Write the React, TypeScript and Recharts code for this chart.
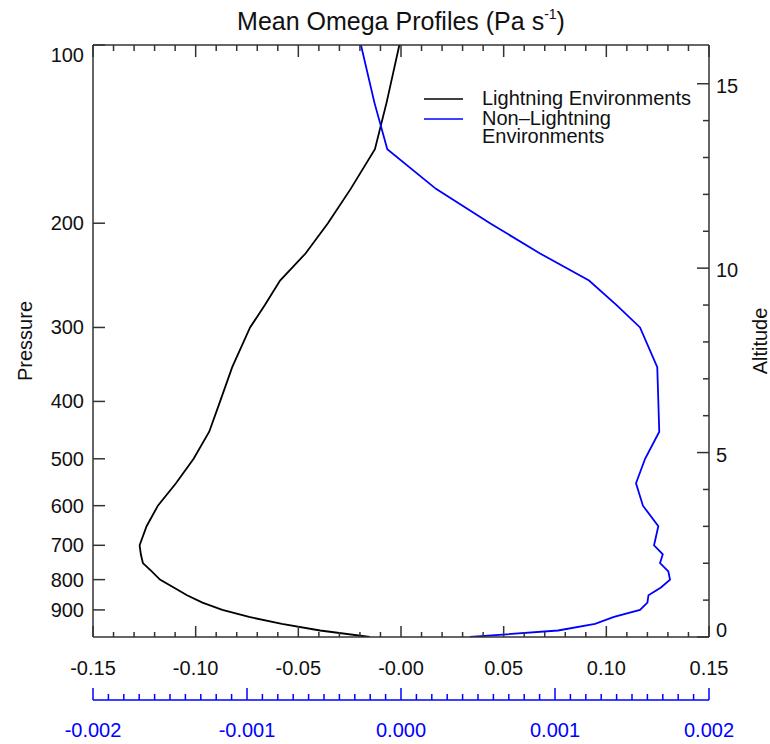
import React from "react";
import { LineChart, Line, XAxis, YAxis, Legend } from "recharts";

// pressure levels (hPa) the two profiles are sampled on
const pressureLevels = [
  100, 125, 150, 175, 200, 225, 250, 275, 300, 350, 400, 450, 500, 550, 600,
  650, 700, 725, 750, 775, 800, 825, 850, 875, 900, 925, 950, 975, 1000,
];

// lightning environments, black axis (Pa s-1)
const lightningOmega = [
  -0.0008, -0.007, -0.0127, -0.0245, -0.0356, -0.0465, -0.0589, -0.0663,
  -0.0735, -0.0822, -0.0881, -0.0934, -0.101, -0.1096, -0.1184, -0.1239,
  -0.1273, -0.1267, -0.1257, -0.1214, -0.1174, -0.1107, -0.1042, -0.0967,
  -0.087, -0.074, -0.058, -0.0394, -0.0152,
];

// non-lightning environments, blue axis (Pa s-1)
const nonLightningOmega = [
  -0.00026, -0.000173, -0.000089, 0.000227, 0.000578, 0.000903, 0.001221,
  0.0014, 0.001552, 0.001664, 0.001671, 0.001677, 0.001585, 0.001526,
  0.001571, 0.001671, 0.001643, 0.0017, 0.001682, 0.001736, 0.001747,
  0.001688, 0.001607, 0.0016, 0.001552, 0.001383, 0.00126, 0.00102, 0.000448,
];

const seriesNames = ["Lightning Environments", "Non\u2013Lightning\nEnvironments"];

const omegaMajorTicks = [-0.15, -0.1, -0.05, 0, 0.05, 0.1, 0.15];
const omegaTickLabels = ["-0.15", "-0.10", "-0.05", "-0.00", "0.05", "0.10", "0.15"];
const nlMajorTicks = [-0.002, -0.001, 0, 0.001, 0.002];
const nlTickLabels = ["-0.002", "-0.001", "0.000", "0.001", "0.002"];
const pressureTicks = [100, 200, 300, 400, 500, 600, 700, 800, 900];
const altitudeMajorTicks = [0, 5, 10, 15];
const altitudeTickLabels = ["0", "5", "10", "15"];

const data = pressureLevels.map((p, i) => ({
  p,
  lightning: lightningOmega[i],
  nonLightning: nonLightningOmega[i],
}));

const FONT = '"Liberation Sans", Arial, Helvetica, sans-serif';
const AXIS = "#333";
const BLUE = "#0000ff";

// majors plus evenly spaced minor ticks between them
function subdivide(majors: number[], n: number) {
  const out: number[] = [];
  for (let i = 0; i < majors.length - 1; i++) {
    const a = majors[i];
    const b = majors[i + 1];
    for (let j = 0; j < n; j++) out.push(j === 0 ? a : a + ((b - a) * j) / n);
  }
  out.push(majors[majors.length - 1]);
  return out;
}

const omegaTicks = subdivide(omegaMajorTicks, 5);
const nlTicks = subdivide(nlMajorTicks, 10);
const altitudeTicks = subdivide(altitudeMajorTicks, 5);

const majorIndex = (majors: number[], v: number) =>
  majors.findIndex((m) => Math.abs(m - v) < 1e-9);

const OmegaTick = ({ x, y, payload }: any) => {
  const idx = majorIndex(omegaMajorTicks, payload.value);
  return (
    <g>
      <line x1={x} x2={x} y1={y} y2={y - (idx >= 0 ? 11 : 5)} stroke={AXIS} strokeWidth={1.5} />
      {idx >= 0 && (
        <text x={x} y={y + 38} textAnchor="middle" fontSize={20} fill="#111" fontFamily={FONT}>
          {omegaTickLabels[idx]}
        </text>
      )}
    </g>
  );
};

const TopTick = ({ x, y, payload }: any) => {
  const idx = majorIndex(omegaMajorTicks, payload.value);
  return <line x1={x} x2={x} y1={y} y2={y + (idx >= 0 ? 12 : 6)} stroke={AXIS} strokeWidth={1.5} />;
};

const NlTick = ({ x, y, payload }: any) => {
  const idx = majorIndex(nlMajorTicks, payload.value);
  return (
    <g>
      <line x1={x} x2={x} y1={y} y2={y - (idx >= 0 ? 12 : 6)} stroke={BLUE} strokeWidth={1.5} />
      {idx >= 0 && (
        <text x={x} y={y + 37} textAnchor="middle" fontSize={20} fill={BLUE} fontFamily={FONT}>
          {nlTickLabels[idx]}
        </text>
      )}
    </g>
  );
};

const PressureTick = ({ x, y, payload }: any) => {
  const dy = payload.value === pressureTicks[0] ? 17 : 7;
  return (
    <g>
      <line x1={x} x2={x + 12} y1={y} y2={y} stroke={AXIS} strokeWidth={1.5} />
      <text x={x - 9} y={y + dy} textAnchor="end" fontSize={20} fill="#111" fontFamily={FONT}>
        {payload.value}
      </text>
    </g>
  );
};

const AltitudeTick = ({ x, y, payload }: any) => {
  const idx = majorIndex(altitudeMajorTicks, payload.value);
  const dy = payload.value === 0 ? 0 : 9;
  return (
    <g>
      <line x1={x} x2={x - (idx >= 0 ? 12 : 6)} y1={y} y2={y} stroke={AXIS} strokeWidth={1.5} />
      {idx >= 0 && (
        <text x={x + 7} y={y + dy} textAnchor="start" fontSize={20} fill="#111" fontFamily={FONT}>
          {altitudeTickLabels[idx]}
        </text>
      )}
    </g>
  );
};

const LegendBox = ({ payload }: any) => {
  const items = payload ?? [];
  return (
    <svg width={290} height={70} style={{ overflow: "visible" }}>
      {items.map((it: any, i: number) => {
        const lineY = 19 + 20 * i;
        const rows = String(it.value).split("\n");
        return (
          <g key={i}>
            <line x1={4} x2={43} y1={lineY} y2={lineY} stroke={it.color} strokeWidth={1.5} />
            {rows.map((r, k) => (
              <text key={k} x={62} y={lineY + 6 + k * 18} fontSize={20} fill="#111" fontFamily={FONT}>
                {r}
              </text>
            ))}
          </g>
        );
      })}
    </svg>
  );
};

export default function App() {
  return (
    <div style={{ position: "absolute", left: 0, top: 0, width: 770, height: 744, background: "#fff" }}>
      <LineChart
        width={770}
        height={744}
        data={data}
        layout="vertical"
        margin={{ top: 44, right: 0, bottom: 4, left: 0 }}
      >
        <XAxis
          xAxisId="t"
          orientation="top"
          type="number"
          domain={[-0.15, 0.15]}
          allowDataOverflow
          ticks={omegaTicks}
          interval={0}
          height={1}
          tickSize={0}
          tickMargin={0}
          tickLine={false}
          axisLine={{ stroke: AXIS, strokeWidth: 1.5 }}
          tick={(props: any) => <TopTick {...props} />}
        />
        <XAxis
          xAxisId="a"
          orientation="bottom"
          type="number"
          domain={[-0.15, 0.15]}
          allowDataOverflow
          ticks={omegaTicks}
          interval={0}
          height={63}
          tickSize={0}
          tickMargin={0}
          tickLine={false}
          axisLine={{ stroke: AXIS, strokeWidth: 1.5 }}
          tick={(props: any) => <OmegaTick {...props} />}
        />
        <XAxis
          xAxisId="b"
          orientation="bottom"
          type="number"
          domain={[-0.002, 0.002]}
          allowDataOverflow
          ticks={nlTicks}
          interval={0}
          height={40}
          tickSize={0}
          tickMargin={0}
          tickLine={false}
          axisLine={{ stroke: BLUE, strokeWidth: 1.5 }}
          tick={(props: any) => <NlTick {...props} />}
        />
        <YAxis
          yAxisId="p"
          dataKey="p"
          type="number"
          scale="log"
          domain={[100, 1000]}
          allowDataOverflow
          ticks={pressureTicks}
          interval={0}
          width={93}
          tickSize={0}
          tickMargin={0}
          tickLine={false}
          axisLine={{ stroke: AXIS, strokeWidth: 1.5 }}
          tick={(props: any) => <PressureTick {...props} />}
          label={{
            value: "Pressure",
            angle: -90,
            position: "insideLeft",
            offset: 25,
            style: { textAnchor: "middle", fontSize: 20, fill: "#111", fontFamily: FONT },
          }}
        />
        <YAxis
          yAxisId="alt"
          dataKey="altitudeKm"
          orientation="right"
          type="number"
          domain={[0, 16.05]}
          allowDataOverflow
          reversed
          ticks={altitudeTicks}
          interval={0}
          width={61}
          tickSize={0}
          tickMargin={0}
          tickLine={false}
          axisLine={{ stroke: AXIS, strokeWidth: 1.5 }}
          tick={(props: any) => <AltitudeTick {...props} />}
          label={{
            value: "Altitude",
            angle: -90,
            position: "insideRight",
            offset: 10,
            style: { textAnchor: "middle", fontSize: 20, fill: "#111", fontFamily: FONT },
          }}
        />
        <Legend
          layout="horizontal"
          verticalAlign="middle"
          align="center"
          content={(props: any) => <LegendBox {...props} />}
          wrapperStyle={{ left: 420, top: 80, width: 290, height: 70 }}
        />
        <Line
          name={seriesNames[0]}
          xAxisId="a"
          yAxisId="p"
          dataKey="lightning"
          type="linear"
          stroke="#000"
          strokeWidth={1.8}
          dot={false}
          isAnimationActive={false}
        />
        <Line
          name={seriesNames[1]}
          xAxisId="b"
          yAxisId="p"
          dataKey="nonLightning"
          type="linear"
          stroke={BLUE}
          strokeWidth={1.8}
          dot={false}
          isAnimationActive={false}
        />
      </LineChart>
      <div
        style={{
          position: "absolute",
          left: 93,
          top: 9,
          width: 616,
          textAlign: "center",
          fontFamily: FONT,
          fontSize: 25,
          lineHeight: "25px",
          color: "#111",
          whiteSpace: "nowrap",
        }}
      >
        Mean Omega Profiles (Pa s
        <span style={{ fontSize: 14, position: "relative", top: -11 }}>-1</span>)
      </div>
    </div>
  );
}
